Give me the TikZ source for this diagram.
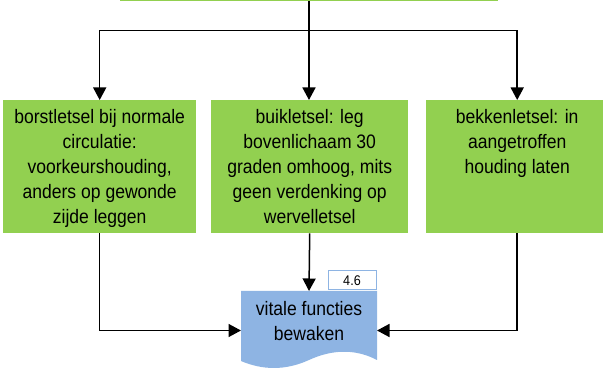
\documentclass[tikz,border=0pt]{standalone}
\usepackage{fontspec}
\setmainfont{Liberation Sans}[FakeStretch=0.9]
\usetikzlibrary{arrows.meta}
\definecolor{boxgreen}{HTML}{92D050}
\definecolor{docblue}{HTML}{8EB4E3}
\newcommand\fl{\rule{0pt}{15pt}}
\tikzset{
  gbox/.style={fill=boxgreen, draw=none, inner sep=0pt, anchor=north west},
  btxt/.style={anchor=north, align=center, inner sep=0pt, font=\fontsize{19.5}{25}\selectfont},
  conn/.style={draw=black, line width=1.5pt},
  arr/.style={conn, -{Triangle[width=13pt,length=12.5pt]}},
}
\begin{document}
\begin{tikzpicture}[x=1pt,y=-1pt]
\useasboundingbox (0,0) rectangle (603,371);
% top box (only its lower edge is visible)
\node[gbox, minimum width=378pt, minimum height=12pt, anchor=south west] (top) at (120,1.5) {};
% three green boxes
\node[gbox, minimum width=193pt, minimum height=133pt] (lb) at (3,100) {};
\node[gbox, minimum width=197pt, minimum height=133pt] (mb) at (211,100) {};
\node[gbox, minimum width=182pt, minimum height=133pt] (rb) at (426,100) {};
\node[btxt] (lt) at ([yshift=-8pt]lb.north) {\fl borstletsel bij normale\\circulatie:\\voorkeurshouding,\\anders op gewonde\\zijde leggen};
\node[btxt] (mt) at ([yshift=-8pt]mb.north) {\fl buikletsel: leg\\bovenlichaam 30\\graden omhoog, mits\\geen verdenking op\\wervelletsel};
\node[btxt] (rt) at ([yshift=-8pt]rb.north) {\fl bekkenletsel: in\\aangetroffen\\houding laten};
% document shape
\fill[docblue] (241,291) -- (377,291) -- (377,360)
  .. controls (358,350) and (335,348) .. (309,360)
  .. controls (285,371) and (262,370) .. (241,361) -- cycle;
\coordinate (docN) at (309,291);
\coordinate (docW) at (241,330.5);
\coordinate (docE) at (377,330.5);
\node[btxt] (dt) at (309,300) {\fl vitale functies\\bewaken};
% tag box
\node[draw=docblue, fill=white, line width=1pt, minimum width=48pt, minimum height=19.5pt, inner sep=0pt, anchor=south west] (tag) at (328,290.5) {};
\node[anchor=base, inner sep=0pt, font=\fontsize{14}{16}\selectfont] (tagt) at (352,286) {4.6};
% connectors
\coordinate (split) at (309,30.5);
\draw[conn] (top.south -| split) -- (split);
\draw[arr] (split) -| (lb.north);
\draw[arr] (split) -- (split |- mb.north);
\draw[arr] (split) -| (rb.north);
\draw[arr] (lb.south) |- (docW);
\draw[arr] (mb.south) -- (docN);
\draw[arr] (rb.south) |- (docE);
\end{tikzpicture}
\end{document}
